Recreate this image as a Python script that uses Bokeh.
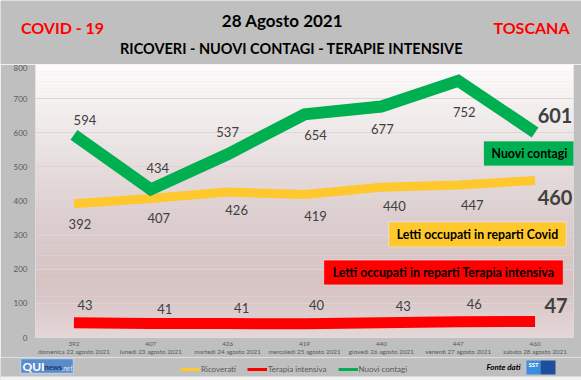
from bokeh.plotting import figure
from bokeh.layouts import column
from bokeh.models import Range1d, Label, Legend, LegendItem, FixedTicker
from bokeh.core.properties import value
from bokeh.embed import file_html
from bokeh.resources import INLINE

# ---------------- data ----------------
days = ["domenica 22 agosto 2021", "lunedì 23 agosto 2021", "martedì 24 agosto 2021",
        "mercoledì 25 agosto 2021", "giovedì 26 agosto 2021", "venerdì 27 agosto 2021",
        "sabato 28 agosto 2021"]
ricoverati = [392, 407, 426, 419, 440, 447, 460]
terapia = [43, 41, 41, 40, 43, 46, 47]
contagi = [594, 434, 537, 654, 677, 752, 601]
y_ticks = [0, 100, 200, 300, 400, 500, 600, 700, 800]
series_names = ["Ricoverati", "Terapia intensiva", "Nuovi contagi"]

# ---------------- styles ----------------
FONT = "Lato"
GREEN = "#00b050"
YELLOW = "#ffc82c"
RED = "#ff0000"
GRAY_BG = "#bfbfbf"
LABEL_COLOR = "#404040"
W = 581

# label offsets in screen px (dx, dy down)
contagi_off = [(11, -15), (7, -21), (0, -22), (11, 21), (1, 23), (6, 31), (20, -17)]
ricov_off = [(6, 20), (8, 19), (9, 18), (11, 21), (13, 19), (14, 20), (20, 17)]
terapia_off = [(11, -18), (14, -15), (14, -16), (12, -19), (22, -17), (16, -18), (21, -16)]

xs = list(range(len(days)))


def bare(fig):
    fig.axis.visible = False
    fig.grid.visible = False
    fig.outline_line_color = None
    fig.border_fill_color = GRAY_BG
    fig.background_fill_color = GRAY_BG


# ---------------- header ----------------
HH = 64
head = figure(width=W, height=HH, x_range=Range1d(0, W), y_range=Range1d(0, HH),
              output_backend="svg", toolbar_location=None, min_border=0, frame_align=False)
bare(head)
head_txt = [("28 Agosto 2021", 282, HH - 20, "17px", "black"),
            ("RICOVERI - NUOVI CONTAGI - TERAPIE INTENSIVE", 291, HH - 48, "14.5px", "black"),
            ("COVID - 19", 62, HH - 27, "16px", RED),
            ("TOSCANA", 531, HH - 27, "16px", RED)]
for t, x, y, s, c in head_txt:
    head.text(x=[x], y=[y], text=[t], text_font=value(FONT), text_font_size=s,
              text_font_style="bold", text_color=c, text_align="center",
              text_baseline="middle")

# ---------------- main chart ----------------
p = figure(width=W, height=293, x_range=Range1d(-0.5, len(days) - 0.5),
           y_range=Range1d(0, 800), output_backend="svg", toolbar_location=None,
           min_border_left=35, min_border_right=8, min_border_top=0, min_border_bottom=20,
           frame_align=False)
p.outline_line_color = None
p.border_fill_color = GRAY_BG
p.background_fill_color = "#e6dcdc"

# gradient background of plot area (decorative stripes)
stops = [(0, (228, 214, 215)), (150, (214, 194, 195)), (350, (220, 205, 206)),
         (550, (234, 226, 226)), (800, (253, 252, 252))]


def col_at(v):
    for (a, ca), (b, cb) in zip(stops[:-1], stops[1:]):
        if a <= v <= b:
            t = (v - a) / (b - a)
            c = [round(ca[i] + (cb[i] - ca[i]) * t) for i in range(3)]
            return "#%02x%02x%02x" % tuple(c)
    return "#ffffff"


n = 80
step = 800 / n
bot = [i * step for i in range(n)]
top = [(i + 1) * step + 0.5 for i in range(n)]
cols = [col_at((i + 0.5) * step) for i in range(n)]
p.quad(left=-0.5, right=len(days) - 0.5, bottom=bot, top=top, fill_color=cols,
       line_color=None, level="image")

# axes
p.xgrid.visible = False
p.ygrid.ticker = FixedTicker(ticks=y_ticks)
p.ygrid.grid_line_color = "#dcd5d5"
p.yaxis.ticker = FixedTicker(ticks=y_ticks)
p.xaxis.ticker = FixedTicker(ticks=xs)
p.xaxis.major_label_overrides = {i: f"{ricoverati[i]}\n{days[i]}" for i in xs}
for ax in (p.xaxis, p.yaxis):
    ax.axis_line_color = None
    ax.major_tick_line_color = None
    ax.minor_tick_line_color = None
    ax.major_tick_out = 0
    ax.major_tick_in = 0
    ax.minor_tick_out = 0
    ax.major_label_text_font = FONT
    ax.major_label_text_color = "#595959"
p.yaxis.major_label_text_font_size = "8px"
p.yaxis.major_label_standoff = 8
p.xaxis.major_label_text_font_size = "6.3px"
p.xaxis.major_label_standoff = 2

# lines
p.line(xs, ricoverati, line_color=YELLOW, line_width=9, line_join="miter", line_cap="butt")
p.line(xs, terapia, line_color=RED, line_width=11, line_join="miter", line_cap="butt")
p.line(xs, contagi, line_color=GREEN, line_width=12, line_join="miter", line_cap="butt")


# data labels
def labels(vals, offs):
    k = len(vals) - 1
    p.text(x=xs[:k], y=vals[:k], text=[str(v) for v in vals[:k]],
           x_offset=[o[0] for o in offs[:k]], y_offset=[o[1] for o in offs[:k]],
           text_font=value(FONT), text_font_size="13px", text_color=LABEL_COLOR,
           text_align="center", text_baseline="middle")
    p.text(x=[xs[k]], y=[vals[k]], text=[str(vals[k])],
           x_offset=[offs[k][0]], y_offset=[offs[k][1]],
           text_font=value(FONT), text_font_size="20px", text_font_style="bold",
           text_color=LABEL_COLOR, text_align="center", text_baseline="middle")


labels(contagi, contagi_off)
labels(ricoverati, ricov_off)
labels(terapia, terapia_off)


# callout boxes
def callout(x, y, txt, bg, pad):
    p.add_layout(Label(x=x, y=y, x_units="screen", y_units="screen", text=txt,
                       text_font=FONT, text_font_size="12.3px", text_font_style="bold",
                       text_color="black", text_align="center", text_baseline="middle",
                       background_fill_color=bg, border_line_color="#ece4e4",
                       border_line_alpha=0.7, padding=pad))


callout(494, 184, "Nuovi contagi", GREEN, (8, 5))
callout(442, 103, "Letti occupati in reparti Covid", YELLOW, (8, 5))
callout(408, 65, "Letti occupati in reparti Terapia intensiva", RED, (9, 5))

# ---------------- footer ----------------
FH = 23
foot = figure(width=W, height=FH, x_range=Range1d(0, W), y_range=Range1d(0, FH),
              output_backend="svg", toolbar_location=None, min_border=0, frame_align=False)
bare(foot)
# light strip at the very bottom (sheet below the chart)
foot.quad(left=[0], right=[W], bottom=[0], top=[4], fill_color="#f2f2f2", line_color=None)
# legend proxies (kept outside the visible range)
rs = [foot.line([-40, -20], [-40, -40], line_color=c, line_width=3)
      for c in (YELLOW, RED, GREEN)]
legend = Legend(items=[LegendItem(label=nm, renderers=[r]) for nm, r in zip(series_names, rs)],
                orientation="horizontal", location=(180, 6),
                background_fill_alpha=0, border_line_color=None, padding=0, margin=0,
                spacing=11, glyph_width=20, glyph_height=10, label_standoff=1,
                label_height=10, label_text_font=FONT, label_text_font_size="8px",
                label_text_color="#595959")
foot.add_layout(legend)

# QUInews logo
foot.quad(left=[20], right=[73], bottom=[7], top=[22], fill_color="#5a8cca",
          line_color="#b8cce4", line_width=1.5)
foot.text(x=[22], y=[14.5], text=["QUI"], text_font=value(FONT), text_font_size="12px",
          text_font_style="bold", text_color="white", text_align="left",
          text_baseline="middle")
foot.text(x=[44], y=[13], text=["news"], text_font=value(FONT), text_font_size="7.5px",
          text_font_style="bold", text_color="#1b3563", text_align="left",
          text_baseline="middle")
foot.text(x=[61], y=[13], text=[".net"], text_font=value(FONT), text_font_size="7px",
          text_font_style="italic", text_color="#dbe6f5", text_align="left",
          text_baseline="middle")
# source
foot.text(x=[503], y=[14], text=["Fonte dati"], text_font=value(FONT), text_font_size="8px",
          text_font_style="bold italic", text_color="black", text_align="center",
          text_baseline="middle")
foot.quad(left=[526, 540], right=[540, 555], bottom=[6, 6], top=[20, 20],
          fill_color=["#3a8ee0", "#1d4f9c"], line_color=None)
foot.text(x=[533], y=[16], text=["SST"], text_font=value(FONT), text_font_size="6px",
          text_font_style="bold", text_color="white", text_align="center",
          text_baseline="middle")

layout = column(head, p, foot, spacing=0)
open("out.html", "w").write(file_html(layout, INLINE))
